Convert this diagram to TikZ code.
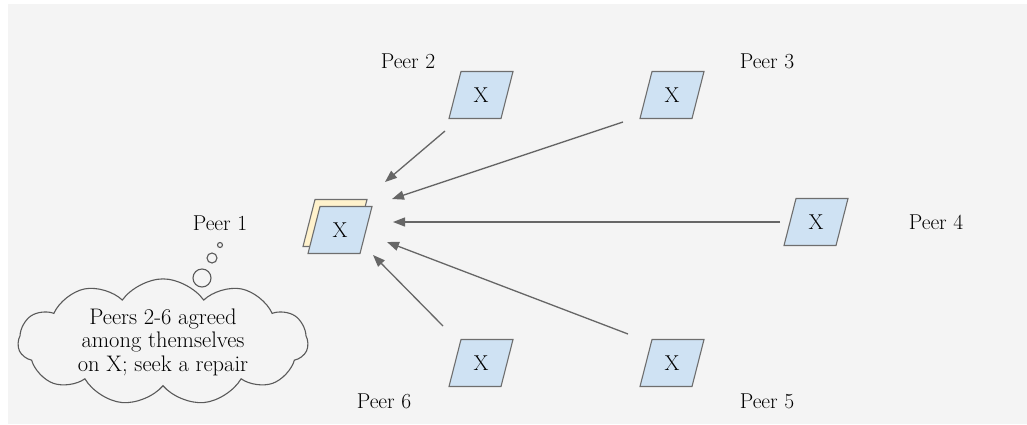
\documentclass[tikz,border=0pt]{standalone}
\usepackage{fontspec}
\usetikzlibrary{shapes.symbols,arrows.meta}
\definecolor{bg}{HTML}{F4F4F4}
\definecolor{boxblue}{HTML}{CFE2F3}
\definecolor{boxyellow}{HTML}{FFF2CC}
\definecolor{edge}{HTML}{6E6E6E}
\definecolor{arrowc}{HTML}{666666}
\definecolor{cloudline}{HTML}{5A5A5A}
\newcommand\pgram[4]{%
  \draw[boxline, fill=#4] (#2-20,#3-23.5) -- (#2+32,#3-23.5) -- (#2+20,#3+23.5) -- (#2-32,#3+23.5) -- cycle;
  \node[txt] (#1) at (#2,#3) {X};}
\begin{document}
\begin{tikzpicture}[x=1pt,y=-1pt,
  txt/.style={font=\fontsize{21.5}{23.5}\selectfont, inner sep=0pt, text=black},
  boxline/.style={draw=edge, line width=1.1pt},
  conn/.style={draw=arrowc, line width=1.3pt, -{Triangle[length=12pt,width=9pt]}},
  bubble/.style={draw=cloudline, line width=1.1pt}]
\useasboundingbox (0,0) rectangle (1027,424);
\fill[white] (0,0) rectangle (1027,424);
\fill[bg] (8,4) rectangle (1027,424);
% peer 1 stacked boxes
\draw[boxline, fill=boxyellow] (335-20,223-23.5) -- (335+32,223-23.5) -- (335+20,223+23.5) -- (335-32,223+23.5) -- cycle;
\pgram{b1}{340}{230}{boxblue}
\pgram{b2}{481}{95}{boxblue}
\pgram{b3}{672}{95}{boxblue}
\pgram{b4}{816}{222}{boxblue}
\pgram{b5}{672}{363}{boxblue}
\pgram{b6}{481}{363}{boxblue}
% labels
\node[txt] (l1) at (220,223) {Peer 1};
\node[txt] (l2) at (408,61) {Peer 2};
\node[txt] (l3) at (767,61) {Peer 3};
\node[txt] (l4) at (936,222) {Peer 4};
\node[txt] (l5) at (767,401) {Peer 5};
\node[txt] (l6) at (384,401) {Peer 6};
% arrow end points
\coordinate (s2) at (445,131); \coordinate (t2) at (385,182);
\coordinate (s3) at (623,122); \coordinate (t3) at (392,199);
\coordinate (s4) at (780,222); \coordinate (t4) at (393,222);
\coordinate (s5) at (628,334); \coordinate (t5) at (387,242);
\coordinate (s6) at (443,326); \coordinate (t6) at (373,255);
\draw[conn] (s2) -- (t2);
\draw[conn] (s3) -- (t3);
\draw[conn] (s4) -- (t4);
\draw[conn] (s5) -- (t5);
\draw[conn] (s6) -- (t6);
% thought cloud
\node[cloud, cloud puffs=11, cloud puff arc=110, cloud ignores aspect, minimum width=290pt, minimum height=96pt,
  draw=cloudline, line width=1.1pt, fill=bg, inner sep=0pt, align=center,
  font=\fontsize{22.5}{23.5}\selectfont] (cl) at (163,342) {Peers 2-6 agreed\\among themselves\\on X; seek a repair};
\node[bubble, circle, minimum size=18pt, inner sep=0pt] (c1) at (202,278) {};
\node[bubble, circle, minimum size=10pt, inner sep=0pt] (c2) at (212,258) {};
\node[bubble, circle, minimum size=5pt, inner sep=0pt] (c3) at (220,245) {};
\end{tikzpicture}
\end{document}
